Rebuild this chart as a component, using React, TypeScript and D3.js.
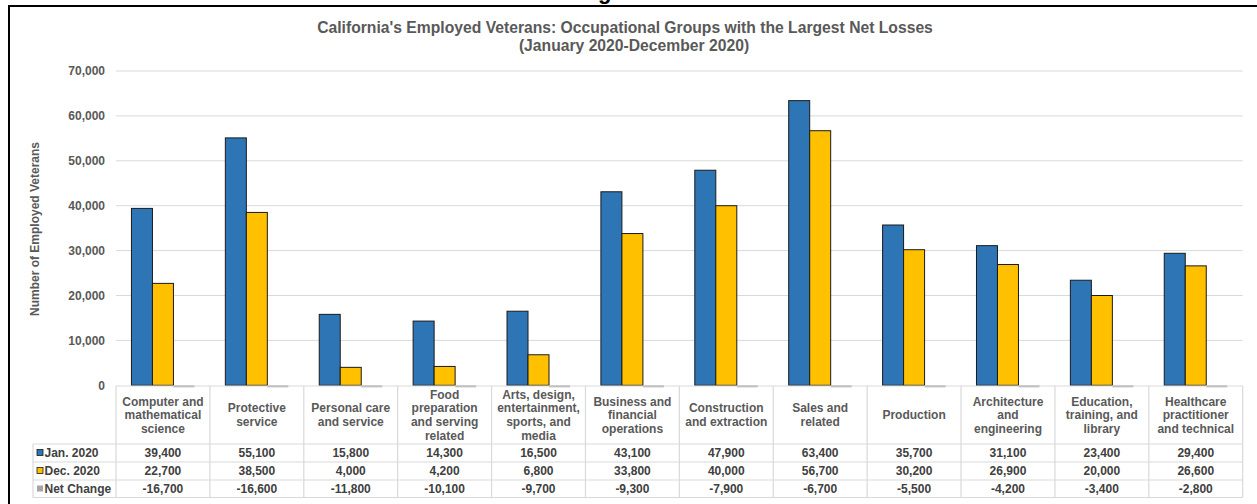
import React from "react";
import * as d3 from "d3";

const categoryLines: string[][] = [
  ["Computer and", "mathematical", "science"],
  ["Protective", "service"],
  ["Personal care", "and service"],
  ["Food", "preparation", "and serving", "related"],
  ["Arts, design,", "entertainment,", "sports, and", "media"],
  ["Business and", "financial", "operations"],
  ["Construction", "and extraction"],
  ["Sales and", "related"],
  ["Production"],
  ["Architecture", "and", "engineering"],
  ["Education,", "training, and", "library"],
  ["Healthcare", "practitioner", "and technical"],
];
const categories = categoryLines.map((l) => l.join(" "));

const jan2020 = [39400, 55100, 15800, 14300, 16500, 43100, 47900, 63400, 35700, 31100, 23400, 29400];
const dec2020 = [22700, 38500, 4000, 4200, 6800, 33800, 40000, 56700, 30200, 26900, 20000, 26600];
const netChange = [-16700, -16600, -11800, -10100, -9700, -9300, -7900, -6700, -5500, -4200, -3400, -2800];

const seriesNames = ["Jan. 2020", "Dec. 2020", "Net Change"];
const seriesColors = ["#2E75B6", "#FFC000", "#A5A5A5"];
const seriesValues = [jan2020, dec2020, netChange];

const yTicks = [0, 10000, 20000, 30000, 40000, 50000, 60000, 70000];

const W = 1257;
const H = 504;
const left = 116;
const right = 1242.7;
const top = 71;
const bottom = 385.3;

const locale = d3.formatLocale({
  decimal: ".",
  thousands: ",",
  grouping: [3],
  currency: ["$", ""],
  minus: "-",
});
const fmt = locale.format(",");
const FONT = "'Liberation Sans', Arial, sans-serif";

export default function App() {
  const x = d3.scaleBand<string>().domain(categories).range([left, right]).padding(0);
  const xs = d3
    .scaleBand<string>()
    .domain(seriesNames)
    .range([0, x.bandwidth()])
    .paddingInner(0)
    .paddingOuter(0.736);
  const y = d3.scaleLinear().domain([0, 70000]).range([bottom, top]);

  const rowTops = [444, 462, 480];
  const rowH = 18;
  const headerTop = 386;
  const tableBottom = 497.5;
  const gridColor = "#d9d9d9";
  const FS = 12;

  return (
    <svg
      width={W}
      height={H}
      style={{ position: "absolute", left: 0, top: 0, background: "#fff" }}
      fontFamily={FONT}
    >
      <defs>
        <clipPath id="plotclip">
          <rect x={left} y={top - 5} width={right - left} height={bottom - top + 7} />
        </clipPath>
      </defs>
      <rect x={0} y={0} width={W} height={H} fill="#fff" />
      {/* fragment of text above the frame */}
      <text x={598} y={-1} fontSize={22} fontWeight="bold" fill="#000">
        g
      </text>
      {/* frame */}
      <line x1={8} x2={W} y1={6} y2={6} stroke="#000" strokeWidth={2} />
      <line x1={9} x2={9} y1={5} y2={H} stroke="#000" strokeWidth={2} />

      {/* title */}
      <text x={625} y={32.5} textAnchor="middle" fontSize={15.7} fontWeight="bold" fill="#595959">
        California's Employed Veterans: Occupational Groups with the Largest Net Losses
      </text>
      <text x={634} y={50.5} textAnchor="middle" fontSize={15.7} fontWeight="bold" fill="#595959">
        (January 2020-December 2020)
      </text>

      {/* gridlines & y ticks */}
      {yTicks.map((t) => (
        <g key={t}>
          {t > 0 && (
            <line x1={left} x2={right} y1={y(t)} y2={y(t)} stroke={gridColor} strokeWidth={1} />
          )}
          <text
            x={105}
            y={y(t)}
            dy="0.35em"
            textAnchor="end"
            fontSize={FS}
            fontWeight="bold"
            fill="#595959"
          >
            {fmt(t)}
          </text>
        </g>
      ))}

      {/* y axis title */}
      <text
        transform={`translate(35,229) rotate(-90)`}
        dy="0.35em"
        textAnchor="middle"
        fontSize={FS}
        fontWeight="bold"
        fill="#595959"
      >
        Number of Employed Veterans
      </text>

      {/* bars */}
      <g clipPath="url(#plotclip)">
        {categories.map((c, i) =>
          seriesNames.map((s, j) => {
            const v = seriesValues[j][i];
            const x0 = (x(c) ?? 0) + (xs(s) ?? 0);
            const y0 = y(Math.max(0, v));
            const y1 = y(Math.min(0, v));
            return (
              <rect
                key={c + s}
                x={x0}
                y={y0}
                width={xs.bandwidth()}
                height={y1 - y0}
                fill={seriesColors[j]}
                stroke={j === 2 ? "#8c8c8c" : "#1a1a1a"}
                strokeWidth={j === 2 ? 0 : 1}
              />
            );
          })
        )}
      </g>

      {/* data table */}
      <g>
        <line x1={left} x2={right} y1={headerTop} y2={headerTop} stroke={gridColor} strokeWidth={1.2} />
        {rowTops.map((ry) => (
          <line key={ry} x1={33} x2={right} y1={ry} y2={ry} stroke={gridColor} strokeWidth={1.2} />
        ))}
        <line x1={33} x2={right} y1={tableBottom} y2={tableBottom} stroke={gridColor} strokeWidth={1.2} />
        <line x1={33} x2={33} y1={rowTops[0]} y2={tableBottom} stroke={gridColor} strokeWidth={1.2} />
        {categories.map((c) => (
          <line
            key={c}
            x1={x(c)}
            x2={x(c)}
            y1={headerTop}
            y2={tableBottom}
            stroke={gridColor}
            strokeWidth={1.2}
          />
        ))}
        <line x1={right} x2={right} y1={headerTop} y2={tableBottom} stroke={gridColor} strokeWidth={1.2} />

        {/* category labels */}
        {categories.map((c, i) => {
          const lines = categoryLines[i];
          const cx = (x(c) ?? 0) + x.bandwidth() / 2;
          const cy = (headerTop + rowTops[0]) / 2;
          const lh = 13.7;
          const startY = cy - ((lines.length - 1) * lh) / 2;
          return (
            <text
              key={c}
              x={cx}
              textAnchor="middle"
              fontSize={FS}
              fontWeight="bold"
              fill="#595959"
            >
              {lines.map((l, k) => (
                <tspan key={k} x={cx} y={startY + k * lh} dy="0.35em">
                  {l}
                </tspan>
              ))}
            </text>
          );
        })}

        {/* rows */}
        {seriesNames.map((s, j) => (
          <g key={s}>
            <rect
              x={37}
              y={rowTops[j] + rowH / 2 - 3.5}
              width={6}
              height={6}
              fill={seriesColors[j]}
              stroke={j === 2 ? "none" : "#1a1a1a"}
              strokeWidth={0.8}
            />
            <text
              x={44.5}
              y={rowTops[j] + rowH / 2}
              dy="0.35em"
              fontSize={FS}
              fontWeight="bold"
              fill="#404040"
            >
              {s}
            </text>
            {categories.map((c, i) => (
              <text
                key={c}
                x={(x(c) ?? 0) + x.bandwidth() / 2}
                y={rowTops[j] + rowH / 2}
                dy="0.35em"
                textAnchor="middle"
                fontSize={FS}
                fontWeight="bold"
                fill="#404040"
              >
                {fmt(seriesValues[j][i])}
              </text>
            ))}
          </g>
        ))}
      </g>
    </svg>
  );
}
